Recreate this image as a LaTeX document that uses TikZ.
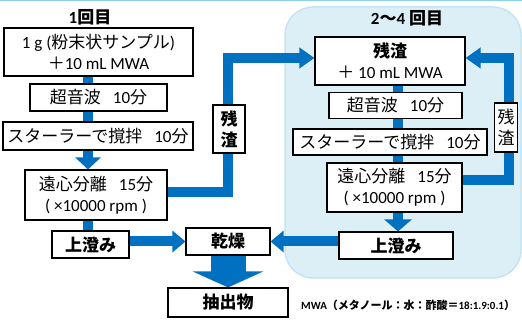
\documentclass[tikz,border=0pt]{standalone}
\usepackage{fontspec}
\setmainfont{Carlito}
\newfontfamily\jp{Noto Sans CJK JP}
\usetikzlibrary{arrows.meta,calc}
\pgfdeclarelayer{panellayer}
\pgfdeclarelayer{linklayer}
\pgfsetlayers{panellayer,linklayer,main}
\definecolor{flowblue}{RGB}{0,112,192}
\definecolor{panelfill}{RGB}{220,239,247}
\definecolor{paneledge}{RGB}{195,229,243}
\definecolor{topline}{RGB}{140,210,232}
\begin{document}
\begin{tikzpicture}[x=1pt,y=-1pt,
  box/.style={draw=black, line width=1.1pt, fill=white, inner sep=0pt, align=center, font=\fontsize{17}{21}\selectfont},
  bbox/.style={box, font=\fontsize{17}{21}\selectfont\bfseries},
  title/.style={font=\fontsize{17}{21}\selectfont\bfseries, inner sep=0pt},
  link/.style={draw=flowblue, line width=10pt},
  headA/.style={-{Triangle[width=25pt,length=12pt]}},
  headB/.style={-{Triangle[width=21pt,length=13pt]}},
  headC/.style={-{Triangle[width=20pt,length=15pt]}},
]
\useasboundingbox (0,0) rectangle (522,320);
\draw[topline, line width=1.5pt] (0,0.75) -- (522,0.75);

\begin{pgfonlayer}{panellayer}
  \draw[draw=paneledge, fill=panelfill, line width=1.5pt, rounded corners=28pt] (285,7) rectangle (521,278);
\end{pgfonlayer}

% titles
\node[title] (t1) at (90,17) {1{\jp 回目}};
\node[title] (t2) at (407,18) {2{\jp 〜}4 {\jp 回目}};

% left column
\node[box, minimum width=189pt, minimum height=48pt] (b1) at (98.5,52) {1 g ({\jp 粉末状サンプル})\\{\jp ＋}10 mL MWA};
\node[box, minimum width=137pt, minimum height=27pt] (b2) at (98.5,97.5) {{\jp 超音波}\hspace{12pt}10{\jp 分}};
\node[box, minimum width=190pt, minimum height=28pt] (b3) at (98,136) {{\jp スターラーで撹拌}\hspace{12pt}10{\jp 分}};
\node[box, minimum width=142pt, minimum height=50pt] (b4) at (96,195) {{\jp 遠心分離}\hspace{12pt}15{\jp 分}\\( ×10000 rpm )};
\node[bbox, minimum width=77pt, minimum height=27pt] (b5) at (90.5,244.5) {{\jp 上澄み}};
\node[bbox, minimum width=84pt, minimum height=27pt] (dry) at (228,241.5) {{\jp 乾燥}};
\node[bbox, minimum width=120pt, minimum height=29pt] (ext) at (228,302.5) {{\jp 抽出物}};
\node[bbox, minimum width=32pt, minimum height=48pt] (lr) at (229,129) {{\jp 残}\\{\jp 渣}};

% right column
\node[box, minimum width=150pt, minimum height=48pt] (rb1) at (390,61) {{\bfseries\jp 残渣}\\{\jp ＋} 10 mL MWA};
\node[box, minimum width=133pt, minimum height=26pt] (rb2) at (395.5,105.5) {{\jp 超音波}\hspace{12pt}10{\jp 分}};
\node[box, minimum width=194pt, minimum height=26pt] (rb3) at (390,142) {{\jp スターラーで撹拌}\hspace{12pt}10{\jp 分}};
\node[box, minimum width=135pt, minimum height=49pt] (rb4) at (394.5,187.5) {{\jp 遠心分離}\hspace{12pt}15{\jp 分}\\( ×10000 rpm )};
\node[bbox, minimum width=114pt, minimum height=27pt] (rb5) at (396,245.5) {{\jp 上澄み}};
\node[box, minimum width=23pt, minimum height=49pt] (rr) at (506,127.5) {{\jp 残}\\{\jp 渣}};

% note
\node[anchor=west, inner sep=0pt, font=\fontsize{11}{13}\selectfont\bfseries] (note) at (301,305) {MWA{\jp （メタノール：水：酢酸＝}18:1.9:0.1{\jp ）}};

% connectors
\coordinate (ls) at (88,0);
\coordinate (rs) at (398,0);
\coordinate (lloop) at (228,58);
\coordinate (rloop) at (509,58);
\begin{pgfonlayer}{linklayer}
  \draw[link, headA] (b1.south -| ls) -- (b4.north -| ls);
  \draw[link] (b4.south -| ls) -- (b5.north -| ls);
  \draw[link, headB] (b5.east |- dry.west) -- (dry.west);
  \draw[link, headB] (rb5.west |- dry.east) -- (dry.east);
  \draw[draw=flowblue, line width=35pt, -{Triangle[width=70pt,length=16pt]}] (dry.south) -- (ext.north);
  \draw[link, headC] ([yshift=3pt]b4.east) -| (lloop) -- ([yshift=3pt]rb1.west);
  \draw[link, headC] ([yshift=7.5pt]rb4.east) -| (rloop) -- ([yshift=3pt]rb1.east);
  \draw[link] (rb1.south -| rs) -- (rb4.north -| rs);
  \draw[link, -{Triangle[width=27pt,length=12pt]}] (rb4.south -| rs) -- (rb5.north -| rs);
\end{pgfonlayer}
\end{tikzpicture}
\end{document}
